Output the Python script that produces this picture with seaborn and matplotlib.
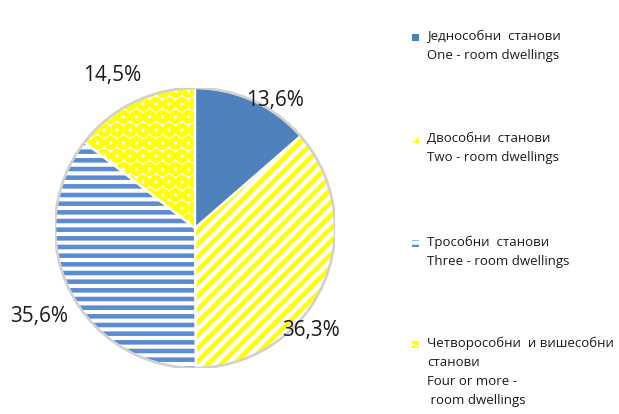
import matplotlib
matplotlib.use("Agg")
import matplotlib.pyplot as plt
import seaborn as sns
from matplotlib.patches import Rectangle, Circle

# Data
categories_sr = ["Једнособни  станови", "Двособни  станови", "Трособни  станови",
                 "Четворособни  и вишесобни\nстанови"]
categories_en = ["One - room dwellings", "Two - room dwellings", "Three - room dwellings",
                 "Four or more -\n room dwellings"]
shares = [13.6, 36.3, 35.6, 14.5]

# Styling
face_colors = ["#4F81BD", "white", "white", "white"]
hatch_colors = ["#4F81BD", "#FFFF00", "#5B8CD2", "#FFFF00"]
hatches = [None, "////", "---", "OO"]
label_pos = [(0.57, 0.91), (0.83, -0.73), (-1.11, -0.63), (-0.59, 1.09)]
legend_top = [30, 132, 236, 337]

sns.set_theme(style="white")
plt.rcParams["font.family"] = ["Open Sans", "DejaVu Sans"]
plt.rcParams["hatch.linewidth"] = 2.1

DPI = 156
W, H = 619, 414
fig = plt.figure(figsize=(W / DPI, H / DPI), dpi=DPI)
fig.patch.set_facecolor("white")

cx, cy, r = 195, 228, 140
ax = fig.add_axes([(cx - r) / W, (H - cy - r) / H, 2 * r / W, 2 * r / H])
ax.set_axis_off()

wedges, _ = ax.pie(shares, startangle=90, counterclock=False, radius=1)
for w, fc, hc, h in zip(wedges, face_colors, hatch_colors, hatches):
    w.set_facecolor(fc)
    w.set_edgecolor(hc)
    w.set_linewidth(0)
    if h:
        w.set_hatch(h)

# white separators
ax.pie(shares, startangle=90, counterclock=False, radius=1,
       wedgeprops=dict(fill=False, edgecolor="white", linewidth=1.0))
ax.add_patch(Circle((0, 0), 1.0, fill=False, edgecolor="#D0D0D0", linewidth=1.2))

ax.set_xlim(-1, 1)
ax.set_ylim(-1, 1)
ax.set_aspect("equal")

for v, (px, py) in zip(shares, label_pos):
    ax.text(px, py, f"{v:.1f}%".replace(".", ","), ha="center", va="center",
            fontsize=9.6, color="#1a1a1a")

# legend
for sr, en, fc, hc, h, top in zip(categories_sr, categories_en, face_colors,
                                  hatch_colors, hatches, legend_top):
    rect = Rectangle((412 / W, 1 - (top + 11) / H), 7 / W, 7 / H,
                     transform=fig.transFigure, facecolor=fc, edgecolor=hc,
                     linewidth=0, hatch=h)
    fig.patches.append(rect)
    fig.text(427 / W, 1 - top / H, sr + "\n" + en, ha="left", va="top",
             fontsize=6.1, linespacing=1.58, color="#1a1a1a")

fig.savefig("out.png", dpi=DPI)
